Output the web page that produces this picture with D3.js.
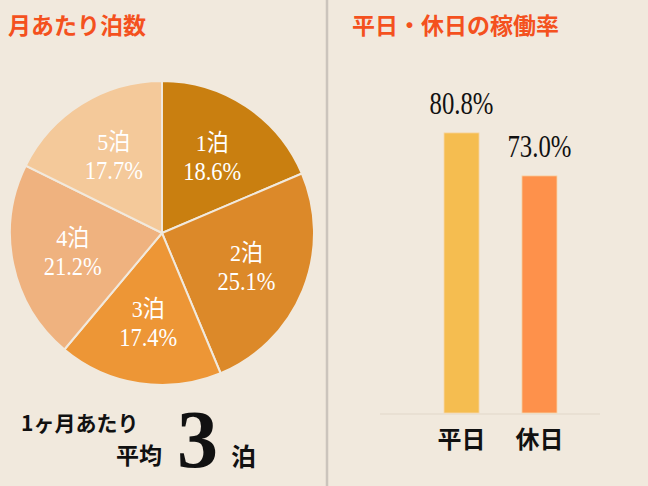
<!DOCTYPE html>
<html lang="ja">
<head>
<meta charset="UTF-8">
<title>月あたり泊数・稼働率</title>
<script src="https://d3js.org/d3.v7.min.js"></script>
<style>
body { margin: 0; background: #f1e9dd; }
svg { display: block; background: #f1e9dd; }
.title { font-family: "Noto Sans CJK JP", sans-serif; font-weight: bold; font-size: 23px; fill: #f4511e; }
.num { font-family: "Liberation Serif", "Noto Sans CJK JP", serif; }
.jp { font-family: "Noto Sans CJK JP", sans-serif; }
</style>
</head>
<body>
<svg id="chart" width="648" height="486"></svg>
<script>
// 月あたり泊数（円グラフ）
const nights = ["1泊", "2泊", "3泊", "4泊", "5泊"];
const nightShare = [18.6, 25.1, 17.4, 21.2, 17.7];
const nightColors = ["#c97f10", "#dc8929", "#ed9636", "#efb27f", "#f4c99a"];

// 平日・休日の稼働率（棒グラフ）
const dayTypes = ["平日", "休日"];
const occupancy = [80.8, 73.0];
const barColors = ["#f5bd50", "#fe914b"];

const svg = d3.select("#chart");
const width = 648, height = 486;

// 区切り線
svg.append("line")
    .attr("x1", 327).attr("x2", 327)
    .attr("y1", 0).attr("y2", height)
    .attr("stroke", "#cbc4bc")
    .attr("stroke-width", 2.5);

// タイトル
svg.append("text").attr("class", "title").attr("x", 8).attr("y", 34).text("月あたり泊数");
svg.append("text").attr("class", "title").attr("x", 352).attr("y", 34).text("平日・休日の稼働率");

// ---- 円グラフ ----
const cx = 162, cy = 233, r = 152;
const pie = d3.pie().sort(null).value(d => d.v);
const arcs = pie(nights.map((n, i) => ({ name: n, v: nightShare[i], color: nightColors[i] })));
const arc = d3.arc().innerRadius(0).outerRadius(r);
const labelArc = d3.arc().innerRadius(r * 0.6).outerRadius(r * 0.6);

const gPie = svg.append("g").attr("transform", `translate(${cx},${cy})`);
gPie.selectAll("path")
    .data(arcs)
    .enter()
    .append("path")
    .attr("d", arc)
    .attr("fill", d => d.data.color)
    .attr("stroke", "#f1e9dd")
    .attr("stroke-width", 2);

const lbl = gPie.selectAll(".lbl")
    .data(arcs)
    .enter()
    .append("g")
    .attr("transform", d => `translate(${labelArc.centroid(d)})`);

lbl.append("text")
    .attr("class", "num")
    .attr("text-anchor", "middle")
    .attr("y", -6)
    .attr("fill", "#fff")
    .attr("font-size", 24)
    .attr("textLength", 33)
    .attr("lengthAdjust", "spacingAndGlyphs")
    .text(d => d.data.name);

lbl.append("text")
    .attr("class", "num")
    .attr("text-anchor", "middle")
    .attr("y", 23)
    .attr("fill", "#fff")
    .attr("font-size", 26)
    .attr("textLength", 58)
    .attr("lengthAdjust", "spacingAndGlyphs")
    .text(d => d.data.v.toFixed(1) + "%");

// 平均
svg.append("text").attr("class", "jp").attr("x", 21).attr("y", 431)
    .attr("font-size", 21).attr("font-weight", "bold").attr("fill", "#111").text("1ヶ月あたり");
svg.append("text").attr("class", "jp").attr("x", 116).attr("y", 464)
    .attr("font-size", 23).attr("font-weight", "bold").attr("fill", "#111").text("平均");
svg.append("text").attr("class", "num").attr("x", 177).attr("y", 467)
    .attr("font-size", 82).attr("font-weight", "bold").attr("fill", "#111").text("3");
svg.append("text").attr("class", "jp").attr("x", 231).attr("y", 466)
    .attr("font-size", 25).attr("font-weight", "bold").attr("fill", "#111").text("泊");

// ---- 棒グラフ ----
const x = d3.scaleBand()
    .domain(dayTypes)
    .range([405, 596])
    .paddingInner(0.55)
    .paddingOuter(0.5);

const y = d3.scaleLinear()
    .domain([30, 100])
    .range([413, 27]);

svg.append("line")
    .attr("x1", 380).attr("x2", 600)
    .attr("y1", y(30) + 1).attr("y2", y(30) + 1)
    .attr("stroke", "#e6dccf")
    .attr("stroke-width", 1.5);

const bars = dayTypes.map((d, i) => ({ k: d, v: occupancy[i], c: barColors[i] }));

svg.selectAll(".bar")
    .data(bars)
    .enter()
    .append("rect")
    .attr("x", d => x(d.k))
    .attr("width", x.bandwidth())
    .attr("y", d => y(d.v))
    .attr("height", d => y(30) - y(d.v))
    .attr("fill", d => d.c)
    .attr("stroke", "#f7d9b0")
    .attr("stroke-width", 0.8);

svg.selectAll(".val")
    .data(bars)
    .enter()
    .append("text")
    .attr("class", "num")
    .attr("text-anchor", "middle")
    .attr("x", d => x(d.k) + x.bandwidth() / 2)
    .attr("y", d => y(d.v) - 19)
    .attr("font-size", 31)
    .attr("fill", "#111")
    .attr("textLength", 64)
    .attr("lengthAdjust", "spacingAndGlyphs")
    .text(d => d.v.toFixed(1) + "%");

const xAxis = svg.append("g")
    .attr("transform", `translate(0,${y(30)})`)
    .call(d3.axisBottom(x).tickSize(0).tickPadding(18));
xAxis.select(".domain").remove();
xAxis.selectAll("text")
    .attr("class", "jp")
    .attr("font-size", 24)
    .attr("font-weight", "bold")
    .attr("fill", "#111")
    .attr("dy", "0.71em");
</script>
</body>
</html>
